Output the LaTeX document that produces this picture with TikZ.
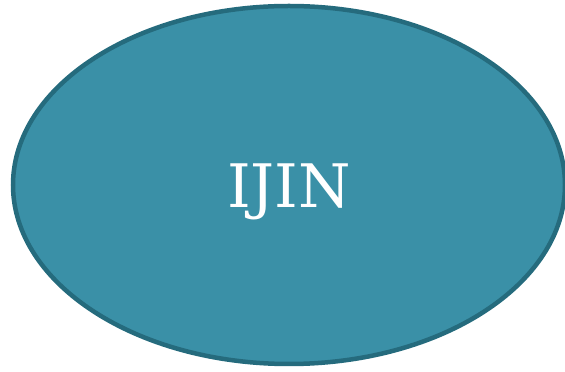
\documentclass[tikz,border=0pt]{standalone}
\usepackage{fontspec}
\setmainfont{DejaVu Serif}
\usetikzlibrary{shapes.geometric}
\definecolor{fillc}{HTML}{3A90A7}
\definecolor{edgec}{HTML}{256B7D}
\tikzset{blob/.style={ellipse, fill=fillc, draw=edgec, line width=4.5pt, inner sep=0pt,
  minimum width=552pt, minimum height=358pt},
  label text/.style={text=white, inner sep=0pt, anchor=base, font=\fontsize{60}{64}\selectfont}}
\begin{document}
\begin{tikzpicture}[x=1pt,y=1pt]
\useasboundingbox (0,0) rectangle (565,372);
\node[blob] (ijin) at (289,187) {};
\node[label text] (ijintext) at (289,164) {IJIN};
\end{tikzpicture}
\end{document}
